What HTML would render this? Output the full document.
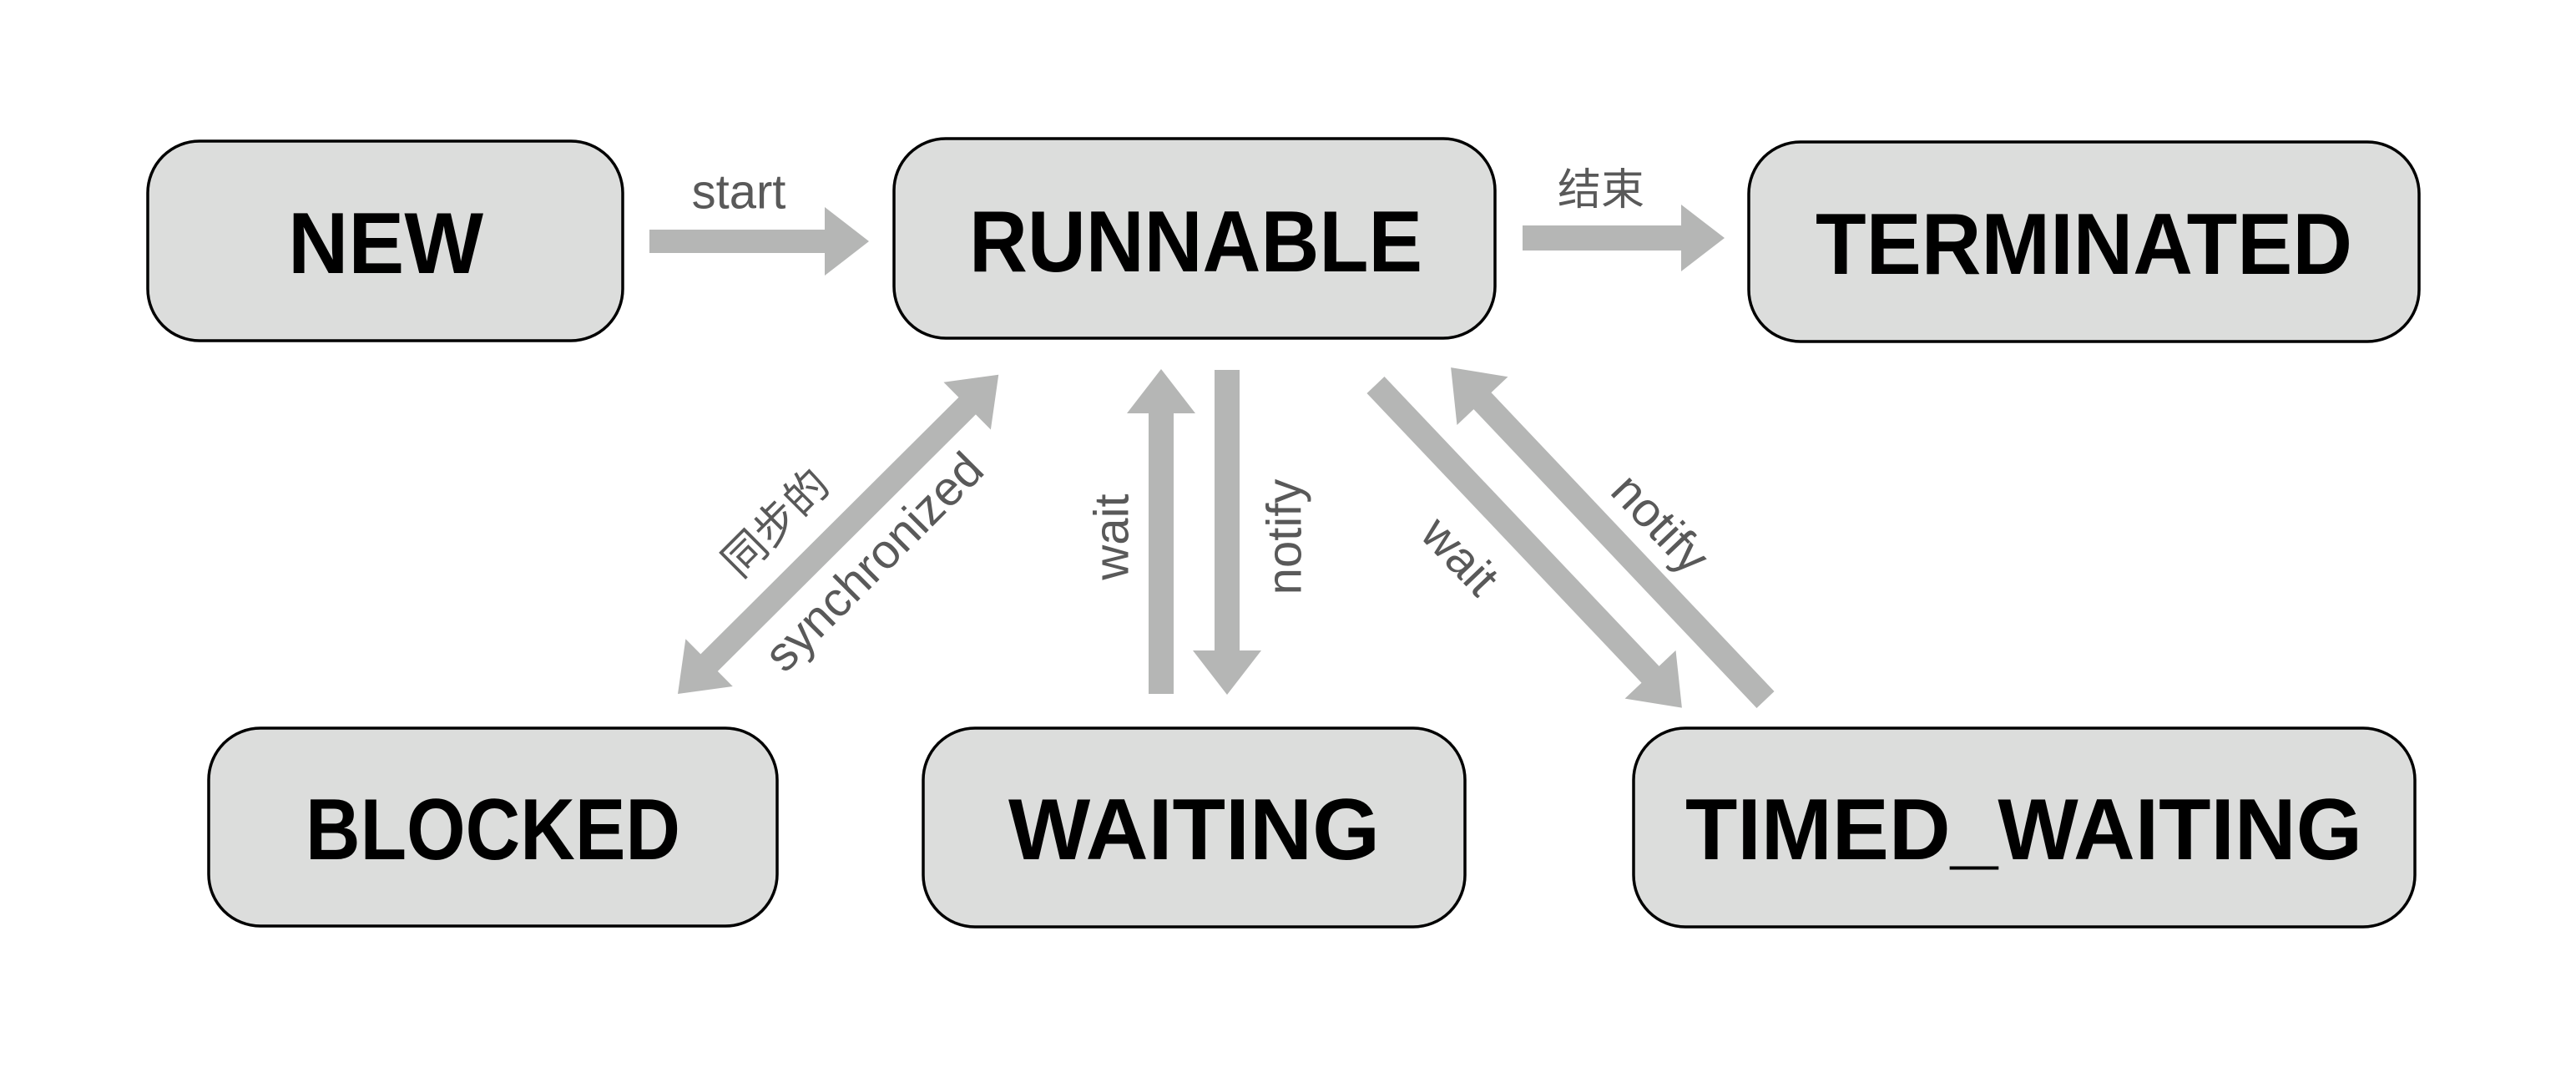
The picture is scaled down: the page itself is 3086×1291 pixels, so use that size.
<!DOCTYPE html>
<html><head><meta charset="utf-8"><style>
html,body{margin:0;padding:0;background:#fff;}
svg{display:block;}
.b{fill:#dcdddc;stroke:#000;stroke-width:3.5;}
.t{font-family:"Liberation Sans",sans-serif;font-weight:bold;font-size:104px;fill:#000;}
.l{font-family:"Liberation Sans","Noto Sans CJK SC",sans-serif;font-size:58px;fill:#595959;}
.a{fill:#b5b6b5;}
</style></head><body>
<svg width="3086" height="1291" viewBox="0 0 3086 1291" xmlns="http://www.w3.org/2000/svg">
<rect class="b" x="177" y="169" width="569" height="239" rx="62"/>
<rect class="b" x="1071" y="166" width="720" height="239" rx="62"/>
<rect class="b" x="2095" y="170" width="803" height="239" rx="62"/>
<rect class="b" x="250" y="872" width="681" height="237" rx="62"/>
<rect class="b" x="1106" y="872" width="649" height="238" rx="62"/>
<rect class="b" x="1957" y="872" width="936" height="238" rx="62"/>
<g class="t" dominant-baseline="central">
<text x="345" y="292" textLength="234" lengthAdjust="spacingAndGlyphs">NEW</text>
<text x="1161" y="290" textLength="543" lengthAdjust="spacingAndGlyphs">RUNNABLE</text>
<text x="2175" y="293" textLength="643" lengthAdjust="spacingAndGlyphs">TERMINATED</text>
<text x="366" y="994" textLength="449" lengthAdjust="spacingAndGlyphs">BLOCKED</text>
<text x="1208" y="994" textLength="445" lengthAdjust="spacingAndGlyphs">WAITING</text>
<text x="2019" y="994" textLength="811" lengthAdjust="spacingAndGlyphs">TIMED_WAITING</text>
</g>
<g class="a">
<polygon transform="translate(778,289)" points="0,-14 210,-14 210,-41 263,0 210,41 210,14 0,14"/>
<polygon transform="translate(1824,285)" points="0,-15 190,-15 190,-40 242,0 190,40 190,15 0,15"/>
<polygon transform="translate(1391,831) rotate(-90)" points="0,-15 336,-15 336,-41 389,0 336,41 336,15 0,15"/>
<polygon transform="translate(1470,443) rotate(90)" points="0,-15 336,-15 336,-41 389,0 336,41 336,15 0,15"/>
<polygon transform="translate(1648,461) rotate(46.5)" points="0,-14.5 478,-14.5 478,-42 533,0 478,42 478,14.5 0,14.5"/>
<polygon transform="translate(2115,838) rotate(-133.45)" points="0,-14.5 493,-14.5 493,-42 548,0 493,42 493,14.5 0,14.5"/>
<polygon transform="translate(812,831) rotate(-44.85)" points="0,0 53,-40 53,-14.5 489,-14.5 489,-40 542,0 489,40 489,14.5 53,14.5 53,40"/>
</g>
<g class="l" text-anchor="middle" dominant-baseline="central">
<text x="885" y="230">start</text>
<text x="1918" y="228" font-size="52">结束</text>
<text transform="translate(1332,643) rotate(-90)">wait</text>
<text transform="translate(1539,643) rotate(-90)">notify</text>
<text transform="translate(930,627) rotate(-45)" font-size="52">同步的</text>
<text transform="translate(1047,673) rotate(-45)">synchronized</text>
<text transform="translate(1749,666) rotate(46.5)">wait</text>
<text transform="translate(1989,627) rotate(46.5)">notify</text>
</g>
</svg>
</body></html>
